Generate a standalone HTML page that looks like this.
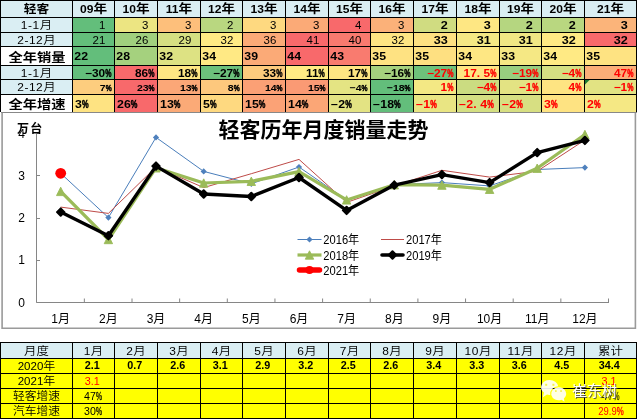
<!DOCTYPE html>
<html lang="zh"><head><meta charset="utf-8"><title>轻客历年月度销量走势</title>
<style>html,body{margin:0;padding:0;background:#fff}svg text{white-space:pre}</style></head>
<body>
<svg width="638" height="420" viewBox="0 0 638 420" style="display:block">
<rect width="638" height="420" fill="#fff"/>
<g id="chart">
<path d="M2.1 112V328.2H635.4V112" fill="none" stroke="#9a9a9a" stroke-width="1.6"/>
<path d="M36.5 134V302.5H609M36.5 302.5h3.5M36.5 260.5h3.5M36.5 218.5h3.5M36.5 175.5h3.5M36.5 133.5h3.5M84.35 302.5v-4M132.00 302.5v-4M179.65 302.5v-4M227.30 302.5v-4M274.95 302.5v-4M322.60 302.5v-4M370.25 302.5v-4M417.90 302.5v-4M465.55 302.5v-4M513.20 302.5v-4M560.85 302.5v-4M608.50 302.5v-4" fill="none" stroke="#868686" stroke-width="1"/>
<polyline points="60.7,173.3 108.4,217.6 156.0,137.4 203.7,171.4 251.3,183.8 299.0,167.0 346.6,199.9 394.3,184.7 441.9,182.6 489.6,185.9 537.2,169.5 584.9,167.6" fill="none" stroke="#4A7EBB" stroke-width="1"/>
<path d="M57.6 173.3L60.7 170.2L63.8 173.3L60.7 176.4ZM105.3 217.6L108.4 214.5L111.5 217.6L108.4 220.7ZM152.9 137.4L156.0 134.3L159.1 137.4L156.0 140.5ZM200.6 171.4L203.7 168.3L206.8 171.4L203.7 174.5ZM248.2 183.8L251.3 180.7L254.4 183.8L251.3 186.9ZM295.9 167.0L299.0 163.9L302.1 167.0L299.0 170.1ZM343.5 199.9L346.6 196.8L349.7 199.9L346.6 203.0ZM391.2 184.7L394.3 181.6L397.4 184.7L394.3 187.8ZM438.8 182.6L441.9 179.5L445.0 182.6L441.9 185.7ZM486.5 185.9L489.6 182.8L492.7 185.9L489.6 189.0ZM534.1 169.5L537.2 166.4L540.3 169.5L537.2 172.6ZM581.8 167.6L584.9 164.5L588.0 167.6L584.9 170.7Z" fill="#4F81BD"/>
<polyline points="60.7,207.1 108.4,213.4 156.0,167.0 203.7,187.6 251.3,173.7 299.0,159.4 346.6,202.4 394.3,185.9 441.9,170.3 489.6,177.1 537.2,171.2 584.9,140.0" fill="none" stroke="#BE4B48" stroke-width="1"/>
<polyline points="60.7,191.4 108.4,239.5 156.0,167.8 203.7,183.0 251.3,181.3 299.0,171.6 346.6,199.9 394.3,184.7 441.9,185.1 489.6,189.3 537.2,168.2 584.9,134.5" fill="none" stroke="#9BBB59" stroke-width="3.2" stroke-linejoin="round"/>
<path d="M56.5 195.6L60.7 187.2L64.9 195.6ZM104.2 243.7L108.4 235.3L112.6 243.7ZM151.8 172.0L156.0 163.6L160.2 172.0ZM199.5 187.2L203.7 178.8L207.9 187.2ZM247.1 185.5L251.3 177.1L255.5 185.5ZM294.8 175.8L299.0 167.4L303.2 175.8ZM342.4 204.1L346.6 195.7L350.8 204.1ZM390.1 188.9L394.3 180.5L398.5 188.9ZM437.7 189.3L441.9 180.9L446.1 189.3ZM485.4 193.5L489.6 185.1L493.8 193.5ZM533.0 172.4L537.2 164.0L541.4 172.4ZM580.7 138.7L584.9 130.3L589.1 138.7Z" fill="#9BBB59" stroke="#9BBB59" stroke-width="0.9" stroke-linejoin="round"/>
<polyline points="60.7,212.1 108.4,235.7 156.0,166.1 203.7,194.0 251.3,196.5 299.0,177.5 346.6,210.4 394.3,185.1 441.9,174.6 489.6,182.6 537.2,152.6 584.9,140.4" fill="none" stroke="#000" stroke-width="3.4" stroke-linejoin="round" stroke-linecap="round"/>
<path d="M57.0 212.1L60.7 208.4L64.4 212.1L60.7 215.8ZM104.7 235.7L108.4 232.0L112.1 235.7L108.4 239.4ZM152.3 166.1L156.0 162.4L159.7 166.1L156.0 169.8ZM200.0 194.0L203.7 190.3L207.4 194.0L203.7 197.7ZM247.6 196.5L251.3 192.8L255.0 196.5L251.3 200.2ZM295.3 177.5L299.0 173.8L302.7 177.5L299.0 181.2ZM342.9 210.4L346.6 206.7L350.3 210.4L346.6 214.1ZM390.6 185.1L394.3 181.4L398.0 185.1L394.3 188.8ZM438.2 174.6L441.9 170.9L445.6 174.6L441.9 178.3ZM485.9 182.6L489.6 178.9L493.3 182.6L489.6 186.3ZM533.5 152.6L537.2 148.9L540.9 152.6L537.2 156.3ZM581.2 140.4L584.9 136.7L588.6 140.4L584.9 144.1Z" fill="#000" stroke="#000" stroke-width="2" stroke-linejoin="round"/>
<circle cx="60.7" cy="173.3" r="5.4" fill="#FF0000"/>
<g style="font-family:'Liberation Sans','Noto Sans CJK SC',sans-serif;font-size:12px" fill="#000">
<text x="21.5" y="306.5" text-anchor="middle">0</text>
<text x="21.5" y="264.3" text-anchor="middle">1</text>
<text x="21.5" y="222.1" text-anchor="middle">2</text>
<text x="21.5" y="179.9" text-anchor="middle">3</text>
<text x="21.5" y="137.7" text-anchor="middle">4</text>
<text x="60.7" y="322.5" text-anchor="middle">1月</text>
<text x="108.4" y="322.5" text-anchor="middle">2月</text>
<text x="156.0" y="322.5" text-anchor="middle">3月</text>
<text x="203.7" y="322.5" text-anchor="middle">4月</text>
<text x="251.3" y="322.5" text-anchor="middle">5月</text>
<text x="299.0" y="322.5" text-anchor="middle">6月</text>
<text x="346.6" y="322.5" text-anchor="middle">7月</text>
<text x="394.3" y="322.5" text-anchor="middle">8月</text>
<text x="441.9" y="322.5" text-anchor="middle">9月</text>
<text x="489.6" y="322.5" text-anchor="middle">10月</text>
<text x="537.2" y="322.5" text-anchor="middle">11月</text>
<text x="584.9" y="322.5" text-anchor="middle">12月</text>
</g>
<text x="17" y="133.2" style="font-family:'Liberation Sans','Noto Sans CJK SC',sans-serif;font-size:12px;font-weight:bold;letter-spacing:1.2px">万台</text>
<text x="323.5" y="137.3" text-anchor="middle" style="font-family:'Liberation Sans','Noto Sans CJK SC',sans-serif;font-size:21px;font-weight:700">轻客历年月度销量走势</text>
<g style="font-family:'Liberation Sans','Noto Sans CJK SC',sans-serif;font-size:12px">
<path d="M297.5 239.5H321.5" stroke="#4A7EBB" stroke-width="1"/><path d="M306.4 239.5L309.5 236.4L312.6 239.5L309.5 242.6Z" fill="#4F81BD"/>
<text transform="translate(323.3 244) scale(0.93 1)">2016年</text>
<path d="M381 239.5H404" stroke="#BE4B48" stroke-width="1"/>
<text transform="translate(406 244) scale(0.93 1)">2017年</text>
<path d="M297.5 255H321.5" stroke="#9BBB59" stroke-width="3.2"/><path d="M305.3 259.2L309.5 250.8L313.7 259.2Z" fill="#9BBB59" stroke="#9BBB59" stroke-width="0.9" stroke-linejoin="round"/>
<text transform="translate(323.3 259.5) scale(0.93 1)">2018年</text>
<path d="M382 255H403" stroke="#000" stroke-width="3.6" stroke-linecap="round"/><path d="M388.8 255.0L392.5 251.3L396.2 255.0L392.5 258.7Z" fill="#000" stroke="#000" stroke-width="2" stroke-linejoin="round"/>
<text transform="translate(406 259.5) scale(0.93 1)">2019年</text>
<path d="M299.5 270H319.5" stroke="#FF0000" stroke-width="5.5" stroke-linecap="round"/><circle cx="309.5" cy="270" r="4" fill="#FF0000"/>
<text transform="translate(323.3 274.5) scale(0.93 1)">2021年</text>
</g>
</g>
<g id="toptable">
<rect x="0" y="0" width="72" height="17" fill="#DAEEF3"/>
<rect x="0" y="17" width="72" height="15" fill="#DAEEF3"/>
<rect x="0" y="32" width="72" height="14" fill="#DAEEF3"/>
<rect x="0" y="46" width="72" height="19" fill="#fff"/>
<rect x="0" y="65" width="72" height="14" fill="#DAEEF3"/>
<rect x="0" y="79" width="72" height="15" fill="#DAEEF3"/>
<rect x="0" y="94" width="72" height="18" fill="#fff"/>
<rect x="72" y="0" width="42" height="17" fill="#DAEEF3"/>
<rect x="72" y="17" width="42" height="15" fill="#63BE7B"/>
<rect x="72" y="32" width="42" height="14" fill="#63BE7B"/>
<rect x="72" y="46" width="42" height="19" fill="#63BE7B"/>
<rect x="72" y="65" width="42" height="14" fill="#63BE7B"/>
<rect x="72" y="79" width="42" height="15" fill="#FDCD7E"/>
<rect x="72" y="94" width="42" height="18" fill="#FEE382"/>
<rect x="114" y="0" width="43" height="17" fill="#DAEEF3"/>
<rect x="114" y="17" width="43" height="15" fill="#ECE582"/>
<rect x="114" y="32" width="43" height="14" fill="#A0D07E"/>
<rect x="114" y="46" width="43" height="19" fill="#A5D17E"/>
<rect x="114" y="65" width="43" height="14" fill="#F8696B"/>
<rect x="114" y="79" width="43" height="15" fill="#F8696B"/>
<rect x="114" y="94" width="43" height="18" fill="#F8696B"/>
<rect x="157" y="0" width="43" height="17" fill="#DAEEF3"/>
<rect x="157" y="17" width="43" height="15" fill="#FDBF7B"/>
<rect x="157" y="32" width="43" height="14" fill="#D5DF82"/>
<rect x="157" y="46" width="43" height="19" fill="#DDE283"/>
<rect x="157" y="65" width="43" height="14" fill="#FEE683"/>
<rect x="157" y="79" width="43" height="15" fill="#FBA777"/>
<rect x="157" y="94" width="43" height="18" fill="#FBAA77"/>
<rect x="200" y="0" width="42" height="17" fill="#DAEEF3"/>
<rect x="200" y="17" width="42" height="15" fill="#B9D780"/>
<rect x="200" y="32" width="42" height="14" fill="#FFEB84"/>
<rect x="200" y="46" width="42" height="19" fill="#FFE984"/>
<rect x="200" y="65" width="42" height="14" fill="#6CC07B"/>
<rect x="200" y="79" width="42" height="15" fill="#FDC87D"/>
<rect x="200" y="94" width="42" height="18" fill="#FED980"/>
<rect x="242" y="0" width="43" height="17" fill="#DAEEF3"/>
<rect x="242" y="17" width="43" height="15" fill="#FED980"/>
<rect x="242" y="32" width="43" height="14" fill="#FBAA77"/>
<rect x="242" y="46" width="43" height="19" fill="#FBAA77"/>
<rect x="242" y="65" width="43" height="14" fill="#FDCB7D"/>
<rect x="242" y="79" width="43" height="15" fill="#FBA075"/>
<rect x="242" y="94" width="43" height="18" fill="#FBA276"/>
<rect x="285" y="0" width="43" height="17" fill="#DAEEF3"/>
<rect x="285" y="17" width="43" height="15" fill="#FBAA77"/>
<rect x="285" y="32" width="43" height="14" fill="#F8696B"/>
<rect x="285" y="46" width="43" height="19" fill="#F8696B"/>
<rect x="285" y="65" width="43" height="14" fill="#FFEB84"/>
<rect x="285" y="79" width="43" height="15" fill="#FA9A74"/>
<rect x="285" y="94" width="43" height="18" fill="#FBA676"/>
<rect x="328" y="0" width="42" height="17" fill="#DAEEF3"/>
<rect x="328" y="17" width="42" height="15" fill="#F8696B"/>
<rect x="328" y="32" width="42" height="14" fill="#F97A6F"/>
<rect x="328" y="46" width="42" height="19" fill="#F97B6F"/>
<rect x="328" y="65" width="42" height="14" fill="#FEE582"/>
<rect x="328" y="79" width="42" height="15" fill="#E4E483"/>
<rect x="328" y="94" width="42" height="18" fill="#E3E383"/>
<rect x="370" y="0" width="43" height="17" fill="#DAEEF3"/>
<rect x="370" y="17" width="43" height="15" fill="#FBB179"/>
<rect x="370" y="32" width="43" height="14" fill="#FEE583"/>
<rect x="370" y="46" width="43" height="19" fill="#FEE282"/>
<rect x="370" y="65" width="43" height="14" fill="#A5D17E"/>
<rect x="370" y="79" width="43" height="15" fill="#63BE7B"/>
<rect x="370" y="94" width="43" height="18" fill="#63BE7B"/>
<rect x="413" y="0" width="43" height="17" fill="#DAEEF3"/>
<rect x="413" y="17" width="43" height="15" fill="#D0DC81"/>
<rect x="413" y="32" width="43" height="14" fill="#FEE182"/>
<rect x="413" y="46" width="43" height="19" fill="#FEE081"/>
<rect x="413" y="65" width="43" height="14" fill="#6EC17B"/>
<rect x="413" y="79" width="43" height="15" fill="#F3E884"/>
<rect x="413" y="94" width="43" height="18" fill="#E9E583"/>
<rect x="456" y="0" width="43" height="17" fill="#DAEEF3"/>
<rect x="456" y="17" width="43" height="15" fill="#FEE783"/>
<rect x="456" y="32" width="43" height="14" fill="#F5E884"/>
<rect x="456" y="46" width="43" height="19" fill="#FEE783"/>
<rect x="456" y="65" width="43" height="14" fill="#FEE582"/>
<rect x="456" y="79" width="43" height="15" fill="#CBDC81"/>
<rect x="456" y="94" width="43" height="18" fill="#D4DF82"/>
<rect x="499" y="0" width="42" height="17" fill="#DAEEF3"/>
<rect x="499" y="17" width="42" height="15" fill="#B5D680"/>
<rect x="499" y="32" width="42" height="14" fill="#F0E784"/>
<rect x="499" y="46" width="42" height="19" fill="#F5E884"/>
<rect x="499" y="65" width="42" height="14" fill="#98CE7F"/>
<rect x="499" y="79" width="42" height="15" fill="#E3E383"/>
<rect x="499" y="94" width="42" height="18" fill="#D7DF82"/>
<rect x="541" y="0" width="43" height="17" fill="#DAEEF3"/>
<rect x="541" y="17" width="43" height="15" fill="#B9D780"/>
<rect x="541" y="32" width="43" height="14" fill="#FFE984"/>
<rect x="541" y="46" width="43" height="19" fill="#FFEA84"/>
<rect x="541" y="65" width="43" height="14" fill="#D4DF82"/>
<rect x="541" y="79" width="43" height="15" fill="#FEE482"/>
<rect x="541" y="94" width="43" height="18" fill="#FEE382"/>
<rect x="584" y="0" width="52" height="17" fill="#DAEEF3"/>
<rect x="584" y="17" width="52" height="15" fill="#FBB47A"/>
<rect x="584" y="32" width="52" height="14" fill="#F8696B"/>
<rect x="584" y="46" width="52" height="19" fill="#FEE382"/>
<rect x="584" y="65" width="52" height="14" fill="#FBAE78"/>
<rect x="584" y="79" width="52" height="15" fill="#E2E383"/>
<rect x="584" y="94" width="52" height="18" fill="#F5E884"/>
<path d="M0 0.5H637M0 17.5H637M0 32.5H637M0 46.5H637M0 65.5H637M0 79.5H637M0 94.5H637M0.5 0V112M72.5 0V112M114.5 0V112M157.5 0V112M200.5 0V112M242.5 0V112M285.5 0V112M328.5 0V112M370.5 0V112M413.5 0V112M456.5 0V112M499.5 0V112M541.5 0V112M584.5 0V112M636.5 0V112" stroke="#000" stroke-width="1" fill="none"/>
<path d="M1 112.5H637" stroke="#888" stroke-width="1" fill="none"/>
<text transform="translate(36.5 13.4) scale(0.98 0.9)" text-anchor="middle" fill="#000" style="font-family:'Liberation Sans','Noto Sans CJK SC',sans-serif;font-size:13px;font-weight:700"><tspan style="font-size:13px">轻客</tspan></text>
<text transform="translate(93.5 13.3) scale(1.05 0.92)" text-anchor="middle" fill="#000" style="font-family:'Liberation Sans','Noto Sans CJK SC',sans-serif;font-size:13px;font-weight:700"><tspan dy="-0.4" style="font-family:'Liberation Sans',sans-serif;font-size:11.5px">09</tspan><tspan dy="0.4" style="font-size:13px">年</tspan></text>
<text transform="translate(136.0 13.3) scale(1.05 0.92)" text-anchor="middle" fill="#000" style="font-family:'Liberation Sans','Noto Sans CJK SC',sans-serif;font-size:13px;font-weight:700"><tspan dy="-0.4" style="font-family:'Liberation Sans',sans-serif;font-size:11.5px">10</tspan><tspan dy="0.4" style="font-size:13px">年</tspan></text>
<text transform="translate(179.0 13.3) scale(1.05 0.92)" text-anchor="middle" fill="#000" style="font-family:'Liberation Sans','Noto Sans CJK SC',sans-serif;font-size:13px;font-weight:700"><tspan dy="-0.4" style="font-family:'Liberation Sans',sans-serif;font-size:11.5px">11</tspan><tspan dy="0.4" style="font-size:13px">年</tspan></text>
<text transform="translate(221.5 13.3) scale(1.05 0.92)" text-anchor="middle" fill="#000" style="font-family:'Liberation Sans','Noto Sans CJK SC',sans-serif;font-size:13px;font-weight:700"><tspan dy="-0.4" style="font-family:'Liberation Sans',sans-serif;font-size:11.5px">12</tspan><tspan dy="0.4" style="font-size:13px">年</tspan></text>
<text transform="translate(264.0 13.3) scale(1.05 0.92)" text-anchor="middle" fill="#000" style="font-family:'Liberation Sans','Noto Sans CJK SC',sans-serif;font-size:13px;font-weight:700"><tspan dy="-0.4" style="font-family:'Liberation Sans',sans-serif;font-size:11.5px">13</tspan><tspan dy="0.4" style="font-size:13px">年</tspan></text>
<text transform="translate(307.0 13.3) scale(1.05 0.92)" text-anchor="middle" fill="#000" style="font-family:'Liberation Sans','Noto Sans CJK SC',sans-serif;font-size:13px;font-weight:700"><tspan dy="-0.4" style="font-family:'Liberation Sans',sans-serif;font-size:11.5px">14</tspan><tspan dy="0.4" style="font-size:13px">年</tspan></text>
<text transform="translate(349.5 13.3) scale(1.05 0.92)" text-anchor="middle" fill="#000" style="font-family:'Liberation Sans','Noto Sans CJK SC',sans-serif;font-size:13px;font-weight:700"><tspan dy="-0.4" style="font-family:'Liberation Sans',sans-serif;font-size:11.5px">15</tspan><tspan dy="0.4" style="font-size:13px">年</tspan></text>
<text transform="translate(392.0 13.3) scale(1.05 0.92)" text-anchor="middle" fill="#000" style="font-family:'Liberation Sans','Noto Sans CJK SC',sans-serif;font-size:13px;font-weight:700"><tspan dy="-0.4" style="font-family:'Liberation Sans',sans-serif;font-size:11.5px">16</tspan><tspan dy="0.4" style="font-size:13px">年</tspan></text>
<text transform="translate(435.0 13.3) scale(1.05 0.92)" text-anchor="middle" fill="#000" style="font-family:'Liberation Sans','Noto Sans CJK SC',sans-serif;font-size:13px;font-weight:700"><tspan dy="-0.4" style="font-family:'Liberation Sans',sans-serif;font-size:11.5px">17</tspan><tspan dy="0.4" style="font-size:13px">年</tspan></text>
<text transform="translate(478.0 13.3) scale(1.05 0.92)" text-anchor="middle" fill="#000" style="font-family:'Liberation Sans','Noto Sans CJK SC',sans-serif;font-size:13px;font-weight:700"><tspan dy="-0.4" style="font-family:'Liberation Sans',sans-serif;font-size:11.5px">18</tspan><tspan dy="0.4" style="font-size:13px">年</tspan></text>
<text transform="translate(520.5 13.3) scale(1.05 0.92)" text-anchor="middle" fill="#000" style="font-family:'Liberation Sans','Noto Sans CJK SC',sans-serif;font-size:13px;font-weight:700"><tspan dy="-0.4" style="font-family:'Liberation Sans',sans-serif;font-size:11.5px">19</tspan><tspan dy="0.4" style="font-size:13px">年</tspan></text>
<text transform="translate(563.0 13.3) scale(1.05 0.92)" text-anchor="middle" fill="#000" style="font-family:'Liberation Sans','Noto Sans CJK SC',sans-serif;font-size:13px;font-weight:700"><tspan dy="-0.4" style="font-family:'Liberation Sans',sans-serif;font-size:11.5px">20</tspan><tspan dy="0.4" style="font-size:13px">年</tspan></text>
<text transform="translate(610.5 13.3) scale(1.05 0.92)" text-anchor="middle" fill="#000" style="font-family:'Liberation Sans','Noto Sans CJK SC',sans-serif;font-size:13px;font-weight:700"><tspan dy="-0.4" style="font-family:'Liberation Sans',sans-serif;font-size:11.5px">21</tspan><tspan dy="0.4" style="font-size:13px">年</tspan></text>
<text transform="translate(36.5 28.7) scale(1.04 0.93)" text-anchor="middle" fill="#000" style="font-family:'Liberation Sans','Noto Sans CJK SC',sans-serif;font-size:12px;font-weight:350"><tspan style="font-family:'Liberation Sans',sans-serif;font-size:11.5px;letter-spacing:0.5px">1-1</tspan><tspan style="font-size:12px">月</tspan></text>
<text transform="translate(36.5 43.9) scale(1.04 0.93)" text-anchor="middle" fill="#000" style="font-family:'Liberation Sans','Noto Sans CJK SC',sans-serif;font-size:12px;font-weight:350"><tspan style="font-family:'Liberation Sans',sans-serif;font-size:11.5px;letter-spacing:0.5px">2-12</tspan><tspan style="font-size:12px">月</tspan></text>
<text transform="translate(37.1 62) scale(1.02 0.88)" text-anchor="middle" fill="#000" style="font-family:'Liberation Sans','Noto Sans CJK SC',sans-serif;font-size:14px;font-weight:700"><tspan style="font-size:14px">全年销量</tspan></text>
<text transform="translate(36.5 76.5) scale(1.04 0.93)" text-anchor="middle" fill="#000" style="font-family:'Liberation Sans','Noto Sans CJK SC',sans-serif;font-size:12px;font-weight:350"><tspan style="font-family:'Liberation Sans',sans-serif;font-size:11.5px;letter-spacing:0.5px">1-1</tspan><tspan style="font-size:12px">月</tspan></text>
<text transform="translate(36.5 90.7) scale(1.04 0.93)" text-anchor="middle" fill="#000" style="font-family:'Liberation Sans','Noto Sans CJK SC',sans-serif;font-size:12px;font-weight:350"><tspan style="font-family:'Liberation Sans',sans-serif;font-size:11.5px;letter-spacing:0.5px">2-12</tspan><tspan style="font-size:12px">月</tspan></text>
<text transform="translate(37.1 108.9) scale(1.02 0.88)" text-anchor="middle" fill="#000" style="font-family:'Liberation Sans','Noto Sans CJK SC',sans-serif;font-size:14px;font-weight:700"><tspan style="font-size:14px">全年增速</tspan></text>
<text transform="translate(105.3 29) scale(1.04 1)" text-anchor="end" fill="#000" style="font-family:'Liberation Sans','Noto Sans CJK SC',sans-serif;font-size:11px">1</text>
<text transform="translate(105.3 43.7) scale(1.04 1)" text-anchor="end" fill="#000" style="font-family:'Liberation Sans','Noto Sans CJK SC',sans-serif;font-size:11px">21</text>
<text transform="translate(74.3 59.8) scale(1.12 1)" text-anchor="start" fill="#000" style="font-family:'Liberation Sans','Noto Sans CJK SC',sans-serif;font-size:11px;font-weight:bold">22</text>
<text transform="translate(85.1 76.6) scale(1.13 1)" fill="#000" style="font-family:'Liberation Sans','Noto Sans CJK SC',sans-serif;font-size:10.5px;font-weight:bold">−30<tspan textLength="5.49" lengthAdjust="spacingAndGlyphs" style="stroke:#000;stroke-width:0.5px">%</tspan></text>
<text transform="translate(99.8 90.8) scale(1.13 1)" fill="#000" style="font-family:'Liberation Sans','Noto Sans CJK SC',sans-serif;font-size:9.3px;font-weight:bold">7<tspan textLength="5.31" lengthAdjust="spacingAndGlyphs" style="stroke:#000;stroke-width:0.5px">%</tspan></text>
<text transform="translate(75.1 107.8) scale(1.2 1)" fill="#000" style="font-family:'Liberation Sans','Noto Sans CJK SC',sans-serif;font-size:10.3px;font-weight:bold">3<tspan textLength="5.50" lengthAdjust="spacingAndGlyphs" style="stroke:#000;stroke-width:0.5px">%</tspan></text>
<text transform="translate(148.3 29) scale(1.04 1)" text-anchor="end" fill="#000" style="font-family:'Liberation Sans','Noto Sans CJK SC',sans-serif;font-size:11px">3</text>
<text transform="translate(148.3 43.7) scale(1.04 1)" text-anchor="end" fill="#000" style="font-family:'Liberation Sans','Noto Sans CJK SC',sans-serif;font-size:11px">26</text>
<text transform="translate(116.3 59.8) scale(1.12 1)" text-anchor="start" fill="#000" style="font-family:'Liberation Sans','Noto Sans CJK SC',sans-serif;font-size:11px;font-weight:bold">28</text>
<text transform="translate(135.0 76.6) scale(1.13 1)" fill="#000" style="font-family:'Liberation Sans','Noto Sans CJK SC',sans-serif;font-size:10.5px;font-weight:bold">86<tspan textLength="5.49" lengthAdjust="spacingAndGlyphs" style="stroke:#000;stroke-width:0.5px">%</tspan></text>
<text transform="translate(136.9 90.8) scale(1.13 1)" fill="#000" style="font-family:'Liberation Sans','Noto Sans CJK SC',sans-serif;font-size:9.3px;font-weight:bold">23<tspan textLength="5.31" lengthAdjust="spacingAndGlyphs" style="stroke:#000;stroke-width:0.5px">%</tspan></text>
<text transform="translate(117.1 107.8) scale(1.2 1)" fill="#000" style="font-family:'Liberation Sans','Noto Sans CJK SC',sans-serif;font-size:10.3px;font-weight:bold">26<tspan textLength="5.50" lengthAdjust="spacingAndGlyphs" style="stroke:#000;stroke-width:0.5px">%</tspan></text>
<text transform="translate(191.3 29) scale(1.04 1)" text-anchor="end" fill="#000" style="font-family:'Liberation Sans','Noto Sans CJK SC',sans-serif;font-size:11px">3</text>
<text transform="translate(191.3 43.7) scale(1.04 1)" text-anchor="end" fill="#000" style="font-family:'Liberation Sans','Noto Sans CJK SC',sans-serif;font-size:11px">29</text>
<text transform="translate(159.3 59.8) scale(1.12 1)" text-anchor="start" fill="#000" style="font-family:'Liberation Sans','Noto Sans CJK SC',sans-serif;font-size:11px;font-weight:bold">32</text>
<text transform="translate(178.0 76.6) scale(1.13 1)" fill="#000" style="font-family:'Liberation Sans','Noto Sans CJK SC',sans-serif;font-size:10.5px;font-weight:bold">18<tspan textLength="5.49" lengthAdjust="spacingAndGlyphs" style="stroke:#000;stroke-width:0.5px">%</tspan></text>
<text transform="translate(179.9 90.8) scale(1.13 1)" fill="#000" style="font-family:'Liberation Sans','Noto Sans CJK SC',sans-serif;font-size:9.3px;font-weight:bold">13<tspan textLength="5.31" lengthAdjust="spacingAndGlyphs" style="stroke:#000;stroke-width:0.5px">%</tspan></text>
<text transform="translate(160.1 107.8) scale(1.2 1)" fill="#000" style="font-family:'Liberation Sans','Noto Sans CJK SC',sans-serif;font-size:10.3px;font-weight:bold">13<tspan textLength="5.50" lengthAdjust="spacingAndGlyphs" style="stroke:#000;stroke-width:0.5px">%</tspan></text>
<text transform="translate(233.3 29) scale(1.04 1)" text-anchor="end" fill="#000" style="font-family:'Liberation Sans','Noto Sans CJK SC',sans-serif;font-size:11px">2</text>
<text transform="translate(233.3 43.7) scale(1.04 1)" text-anchor="end" fill="#000" style="font-family:'Liberation Sans','Noto Sans CJK SC',sans-serif;font-size:11px">32</text>
<text transform="translate(202.3 59.8) scale(1.12 1)" text-anchor="start" fill="#000" style="font-family:'Liberation Sans','Noto Sans CJK SC',sans-serif;font-size:11px;font-weight:bold">34</text>
<text transform="translate(213.1 76.6) scale(1.13 1)" fill="#000" style="font-family:'Liberation Sans','Noto Sans CJK SC',sans-serif;font-size:10.5px;font-weight:bold">−27<tspan textLength="5.49" lengthAdjust="spacingAndGlyphs" style="stroke:#000;stroke-width:0.5px">%</tspan></text>
<text transform="translate(227.8 90.8) scale(1.13 1)" fill="#000" style="font-family:'Liberation Sans','Noto Sans CJK SC',sans-serif;font-size:9.3px;font-weight:bold">8<tspan textLength="5.31" lengthAdjust="spacingAndGlyphs" style="stroke:#000;stroke-width:0.5px">%</tspan></text>
<text transform="translate(203.1 107.8) scale(1.2 1)" fill="#000" style="font-family:'Liberation Sans','Noto Sans CJK SC',sans-serif;font-size:10.3px;font-weight:bold">5<tspan textLength="5.50" lengthAdjust="spacingAndGlyphs" style="stroke:#000;stroke-width:0.5px">%</tspan></text>
<text transform="translate(276.3 29) scale(1.04 1)" text-anchor="end" fill="#000" style="font-family:'Liberation Sans','Noto Sans CJK SC',sans-serif;font-size:11px">3</text>
<text transform="translate(276.3 43.7) scale(1.04 1)" text-anchor="end" fill="#000" style="font-family:'Liberation Sans','Noto Sans CJK SC',sans-serif;font-size:11px">36</text>
<text transform="translate(244.3 59.8) scale(1.12 1)" text-anchor="start" fill="#000" style="font-family:'Liberation Sans','Noto Sans CJK SC',sans-serif;font-size:11px;font-weight:bold">39</text>
<text transform="translate(263.0 76.6) scale(1.13 1)" fill="#000" style="font-family:'Liberation Sans','Noto Sans CJK SC',sans-serif;font-size:10.5px;font-weight:bold">33<tspan textLength="5.49" lengthAdjust="spacingAndGlyphs" style="stroke:#000;stroke-width:0.5px">%</tspan></text>
<text transform="translate(264.9 90.8) scale(1.13 1)" fill="#000" style="font-family:'Liberation Sans','Noto Sans CJK SC',sans-serif;font-size:9.3px;font-weight:bold">14<tspan textLength="5.31" lengthAdjust="spacingAndGlyphs" style="stroke:#000;stroke-width:0.5px">%</tspan></text>
<text transform="translate(245.1 107.8) scale(1.2 1)" fill="#000" style="font-family:'Liberation Sans','Noto Sans CJK SC',sans-serif;font-size:10.3px;font-weight:bold">15<tspan textLength="5.50" lengthAdjust="spacingAndGlyphs" style="stroke:#000;stroke-width:0.5px">%</tspan></text>
<text transform="translate(319.3 29) scale(1.04 1)" text-anchor="end" fill="#000" style="font-family:'Liberation Sans','Noto Sans CJK SC',sans-serif;font-size:11px">3</text>
<text transform="translate(319.3 43.7) scale(1.04 1)" text-anchor="end" fill="#000" style="font-family:'Liberation Sans','Noto Sans CJK SC',sans-serif;font-size:11px">41</text>
<text transform="translate(287.3 59.8) scale(1.12 1)" text-anchor="start" fill="#000" style="font-family:'Liberation Sans','Noto Sans CJK SC',sans-serif;font-size:11px;font-weight:bold">44</text>
<text transform="translate(306.0 76.6) scale(1.13 1)" fill="#000" style="font-family:'Liberation Sans','Noto Sans CJK SC',sans-serif;font-size:10.5px;font-weight:bold">11<tspan textLength="5.49" lengthAdjust="spacingAndGlyphs" style="stroke:#000;stroke-width:0.5px">%</tspan></text>
<text transform="translate(307.9 90.8) scale(1.13 1)" fill="#000" style="font-family:'Liberation Sans','Noto Sans CJK SC',sans-serif;font-size:9.3px;font-weight:bold">15<tspan textLength="5.31" lengthAdjust="spacingAndGlyphs" style="stroke:#000;stroke-width:0.5px">%</tspan></text>
<text transform="translate(288.1 107.8) scale(1.2 1)" fill="#000" style="font-family:'Liberation Sans','Noto Sans CJK SC',sans-serif;font-size:10.3px;font-weight:bold">14<tspan textLength="5.50" lengthAdjust="spacingAndGlyphs" style="stroke:#000;stroke-width:0.5px">%</tspan></text>
<text transform="translate(361.3 29) scale(1.04 1)" text-anchor="end" fill="#000" style="font-family:'Liberation Sans','Noto Sans CJK SC',sans-serif;font-size:11px">4</text>
<text transform="translate(361.3 43.7) scale(1.04 1)" text-anchor="end" fill="#000" style="font-family:'Liberation Sans','Noto Sans CJK SC',sans-serif;font-size:11px">40</text>
<text transform="translate(330.3 59.8) scale(1.12 1)" text-anchor="start" fill="#000" style="font-family:'Liberation Sans','Noto Sans CJK SC',sans-serif;font-size:11px;font-weight:bold">43</text>
<text transform="translate(348.0 76.6) scale(1.13 1)" fill="#000" style="font-family:'Liberation Sans','Noto Sans CJK SC',sans-serif;font-size:10.5px;font-weight:bold">17<tspan textLength="5.49" lengthAdjust="spacingAndGlyphs" style="stroke:#000;stroke-width:0.5px">%</tspan></text>
<text transform="translate(349.6 90.8) scale(1.13 1)" fill="#000" style="font-family:'Liberation Sans','Noto Sans CJK SC',sans-serif;font-size:9.3px;font-weight:bold">−4<tspan textLength="5.31" lengthAdjust="spacingAndGlyphs" style="stroke:#000;stroke-width:0.5px">%</tspan></text>
<text transform="translate(331.1 107.8) scale(1.2 1)" fill="#000" style="font-family:'Liberation Sans','Noto Sans CJK SC',sans-serif;font-size:10.3px;font-weight:bold">−2<tspan textLength="5.50" lengthAdjust="spacingAndGlyphs" style="stroke:#000;stroke-width:0.5px">%</tspan></text>
<text transform="translate(404.3 29) scale(1.04 1)" text-anchor="end" fill="#000" style="font-family:'Liberation Sans','Noto Sans CJK SC',sans-serif;font-size:11px">3</text>
<text transform="translate(404.3 43.7) scale(1.04 1)" text-anchor="end" fill="#000" style="font-family:'Liberation Sans','Noto Sans CJK SC',sans-serif;font-size:11px">32</text>
<text transform="translate(372.3 59.8) scale(1.12 1)" text-anchor="start" fill="#000" style="font-family:'Liberation Sans','Noto Sans CJK SC',sans-serif;font-size:11px;font-weight:bold">35</text>
<text transform="translate(384.1 76.6) scale(1.13 1)" fill="#000" style="font-family:'Liberation Sans','Noto Sans CJK SC',sans-serif;font-size:10.5px;font-weight:bold">−16<tspan textLength="5.49" lengthAdjust="spacingAndGlyphs" style="stroke:#000;stroke-width:0.5px">%</tspan></text>
<text transform="translate(386.8 90.8) scale(1.13 1)" fill="#000" style="font-family:'Liberation Sans','Noto Sans CJK SC',sans-serif;font-size:9.3px;font-weight:bold">−18<tspan textLength="5.31" lengthAdjust="spacingAndGlyphs" style="stroke:#000;stroke-width:0.5px">%</tspan></text>
<text transform="translate(373.1 107.8) scale(1.2 1)" fill="#000" style="font-family:'Liberation Sans','Noto Sans CJK SC',sans-serif;font-size:10.3px;font-weight:bold">−18<tspan textLength="5.50" lengthAdjust="spacingAndGlyphs" style="stroke:#000;stroke-width:0.5px">%</tspan></text>
<text transform="translate(447.8 29) scale(1.15 1)" text-anchor="end" fill="#000" style="font-family:'Liberation Sans','Noto Sans CJK SC',sans-serif;font-size:11px;font-weight:bold">2</text>
<text transform="translate(447.8 43.7) scale(1.15 1)" text-anchor="end" fill="#000" style="font-family:'Liberation Sans','Noto Sans CJK SC',sans-serif;font-size:11px;font-weight:bold">33</text>
<text transform="translate(415.3 59.8) scale(1.12 1)" text-anchor="start" fill="#000" style="font-family:'Liberation Sans','Noto Sans CJK SC',sans-serif;font-size:11px;font-weight:bold">35</text>
<text transform="translate(427.1 76.6) scale(1.13 1)" fill="#FF0000" style="font-family:'Liberation Sans','Noto Sans CJK SC',sans-serif;font-size:10.5px;font-weight:bold">−27<tspan textLength="5.49" lengthAdjust="spacingAndGlyphs" style="stroke:#FF0000;stroke-width:0.5px">%</tspan></text>
<text transform="translate(440.6 91.4) scale(1.13 1)" fill="#FF0000" style="font-family:'Liberation Sans','Noto Sans CJK SC',sans-serif;font-size:10.5px;font-weight:bold">1<tspan textLength="5.49" lengthAdjust="spacingAndGlyphs" style="stroke:#FF0000;stroke-width:0.5px">%</tspan></text>
<text transform="translate(416.1 107.8) scale(1.2 1)" fill="#FF0000" style="font-family:'Liberation Sans','Noto Sans CJK SC',sans-serif;font-size:10.3px;font-weight:bold">−1<tspan textLength="5.50" lengthAdjust="spacingAndGlyphs" style="stroke:#FF0000;stroke-width:0.5px">%</tspan></text>
<text transform="translate(490.8 29) scale(1.15 1)" text-anchor="end" fill="#000" style="font-family:'Liberation Sans','Noto Sans CJK SC',sans-serif;font-size:11px;font-weight:bold">3</text>
<text transform="translate(490.8 43.7) scale(1.15 1)" text-anchor="end" fill="#000" style="font-family:'Liberation Sans','Noto Sans CJK SC',sans-serif;font-size:11px;font-weight:bold">31</text>
<text transform="translate(458.3 59.8) scale(1.12 1)" text-anchor="start" fill="#000" style="font-family:'Liberation Sans','Noto Sans CJK SC',sans-serif;font-size:11px;font-weight:bold">34</text>
<text transform="translate(463.6 76.6) scale(1.13 1)" fill="#FF0000" style="font-family:'Liberation Sans','Noto Sans CJK SC',sans-serif;font-size:10.5px;font-weight:bold">17.<tspan dx="3.1">5</tspan><tspan textLength="5.49" lengthAdjust="spacingAndGlyphs" style="stroke:#FF0000;stroke-width:0.5px">%</tspan></text>
<text transform="translate(476.7 91.4) scale(1.13 1)" fill="#FF0000" style="font-family:'Liberation Sans','Noto Sans CJK SC',sans-serif;font-size:10.5px;font-weight:bold">−4<tspan textLength="5.49" lengthAdjust="spacingAndGlyphs" style="stroke:#FF0000;stroke-width:0.5px">%</tspan></text>
<text transform="translate(459.1 107.8) scale(1.2 1)" fill="#FF0000" style="font-family:'Liberation Sans','Noto Sans CJK SC',sans-serif;font-size:10.3px;font-weight:bold">−2.<tspan dx="3.1">4</tspan><tspan textLength="5.50" lengthAdjust="spacingAndGlyphs" style="stroke:#FF0000;stroke-width:0.5px">%</tspan></text>
<text transform="translate(532.8 29) scale(1.15 1)" text-anchor="end" fill="#000" style="font-family:'Liberation Sans','Noto Sans CJK SC',sans-serif;font-size:11px;font-weight:bold">2</text>
<text transform="translate(532.8 43.7) scale(1.15 1)" text-anchor="end" fill="#000" style="font-family:'Liberation Sans','Noto Sans CJK SC',sans-serif;font-size:11px;font-weight:bold">31</text>
<text transform="translate(501.3 59.8) scale(1.12 1)" text-anchor="start" fill="#000" style="font-family:'Liberation Sans','Noto Sans CJK SC',sans-serif;font-size:11px;font-weight:bold">33</text>
<text transform="translate(512.1 76.6) scale(1.13 1)" fill="#FF0000" style="font-family:'Liberation Sans','Noto Sans CJK SC',sans-serif;font-size:10.5px;font-weight:bold">−19<tspan textLength="5.49" lengthAdjust="spacingAndGlyphs" style="stroke:#FF0000;stroke-width:0.5px">%</tspan></text>
<text transform="translate(518.7 91.4) scale(1.13 1)" fill="#FF0000" style="font-family:'Liberation Sans','Noto Sans CJK SC',sans-serif;font-size:10.5px;font-weight:bold">−1<tspan textLength="5.49" lengthAdjust="spacingAndGlyphs" style="stroke:#FF0000;stroke-width:0.5px">%</tspan></text>
<text transform="translate(502.1 107.8) scale(1.2 1)" fill="#FF0000" style="font-family:'Liberation Sans','Noto Sans CJK SC',sans-serif;font-size:10.3px;font-weight:bold">−2<tspan textLength="5.50" lengthAdjust="spacingAndGlyphs" style="stroke:#FF0000;stroke-width:0.5px">%</tspan></text>
<text transform="translate(575.8 29) scale(1.15 1)" text-anchor="end" fill="#000" style="font-family:'Liberation Sans','Noto Sans CJK SC',sans-serif;font-size:11px;font-weight:bold">2</text>
<text transform="translate(575.8 43.7) scale(1.15 1)" text-anchor="end" fill="#000" style="font-family:'Liberation Sans','Noto Sans CJK SC',sans-serif;font-size:11px;font-weight:bold">32</text>
<text transform="translate(543.3 59.8) scale(1.12 1)" text-anchor="start" fill="#000" style="font-family:'Liberation Sans','Noto Sans CJK SC',sans-serif;font-size:11px;font-weight:bold">34</text>
<text transform="translate(561.7 76.6) scale(1.13 1)" fill="#FF0000" style="font-family:'Liberation Sans','Noto Sans CJK SC',sans-serif;font-size:10.5px;font-weight:bold">−4<tspan textLength="5.49" lengthAdjust="spacingAndGlyphs" style="stroke:#FF0000;stroke-width:0.5px">%</tspan></text>
<text transform="translate(568.6 91.4) scale(1.13 1)" fill="#FF0000" style="font-family:'Liberation Sans','Noto Sans CJK SC',sans-serif;font-size:10.5px;font-weight:bold">4<tspan textLength="5.49" lengthAdjust="spacingAndGlyphs" style="stroke:#FF0000;stroke-width:0.5px">%</tspan></text>
<text transform="translate(544.1 107.8) scale(1.2 1)" fill="#FF0000" style="font-family:'Liberation Sans','Noto Sans CJK SC',sans-serif;font-size:10.3px;font-weight:bold">3<tspan textLength="5.50" lengthAdjust="spacingAndGlyphs" style="stroke:#FF0000;stroke-width:0.5px">%</tspan></text>
<text transform="translate(627.8 29) scale(1.15 1)" text-anchor="end" fill="#000" style="font-family:'Liberation Sans','Noto Sans CJK SC',sans-serif;font-size:11px;font-weight:bold">3</text>
<text transform="translate(627.8 43.7) scale(1.15 1)" text-anchor="end" fill="#000" style="font-family:'Liberation Sans','Noto Sans CJK SC',sans-serif;font-size:11px;font-weight:bold">32</text>
<text transform="translate(586.3 59.8) scale(1.12 1)" text-anchor="start" fill="#000" style="font-family:'Liberation Sans','Noto Sans CJK SC',sans-serif;font-size:11px;font-weight:bold">35</text>
<text transform="translate(614.0 76.6) scale(1.13 1)" fill="#FF0000" style="font-family:'Liberation Sans','Noto Sans CJK SC',sans-serif;font-size:10.5px;font-weight:bold">47<tspan textLength="5.49" lengthAdjust="spacingAndGlyphs" style="stroke:#FF0000;stroke-width:0.5px">%</tspan></text>
<text transform="translate(613.7 91.4) scale(1.13 1)" fill="#FF0000" style="font-family:'Liberation Sans','Noto Sans CJK SC',sans-serif;font-size:10.5px;font-weight:bold">−1<tspan textLength="5.49" lengthAdjust="spacingAndGlyphs" style="stroke:#FF0000;stroke-width:0.5px">%</tspan></text>
<text transform="translate(587.1 107.8) scale(1.2 1)" fill="#FF0000" style="font-family:'Liberation Sans','Noto Sans CJK SC',sans-serif;font-size:10.3px;font-weight:bold">2<tspan textLength="5.50" lengthAdjust="spacingAndGlyphs" style="stroke:#FF0000;stroke-width:0.5px">%</tspan></text>
<path d="M585 80h4.5l-4.5 4.5z" fill="#1E7B34"/>
</g>
<g id="bottable">
<rect x="0" y="342" width="636" height="16" fill="#DAEEF3"/>
<rect x="0" y="358" width="636" height="15" fill="#FFFF00"/>
<rect x="0" y="373" width="636" height="15" fill="#FFFF00"/>
<rect x="0" y="388" width="636" height="15" fill="#FFFF00"/>
<rect x="0" y="403" width="636" height="15" fill="#FFFF00"/>
<path d="M0 342.5H637M0 358.5H637M0 373.5H637M0 388.5H637M0 403.5H637M0 418.5H637M0.5 342V419M72.5 342V419M114.5 342V419M157.5 342V419M200.5 342V419M242.5 342V419M285.5 342V419M328.5 342V419M370.5 342V419M413.5 342V419M456.5 342V419M499.5 342V419M541.5 342V419M584.5 342V419M636.5 342V419" stroke="#000" stroke-width="1" fill="none"/>
<text transform="translate(36.5 355) scale(1.04 0.93)" text-anchor="middle" fill="#000" style="font-family:'Liberation Sans','Noto Sans CJK SC',sans-serif;font-size:12px;font-weight:350"><tspan style="font-size:12px">月度</tspan></text>
<text transform="translate(93.5 355) scale(1.04 0.93)" text-anchor="middle" fill="#000" style="font-family:'Liberation Sans','Noto Sans CJK SC',sans-serif;font-size:12px;font-weight:350"><tspan style="font-family:'Liberation Sans',sans-serif;font-size:11.5px;letter-spacing:0.5px">1</tspan><tspan style="font-size:12px">月</tspan></text>
<text transform="translate(136.0 355) scale(1.04 0.93)" text-anchor="middle" fill="#000" style="font-family:'Liberation Sans','Noto Sans CJK SC',sans-serif;font-size:12px;font-weight:350"><tspan style="font-family:'Liberation Sans',sans-serif;font-size:11.5px;letter-spacing:0.5px">2</tspan><tspan style="font-size:12px">月</tspan></text>
<text transform="translate(179.0 355) scale(1.04 0.93)" text-anchor="middle" fill="#000" style="font-family:'Liberation Sans','Noto Sans CJK SC',sans-serif;font-size:12px;font-weight:350"><tspan style="font-family:'Liberation Sans',sans-serif;font-size:11.5px;letter-spacing:0.5px">3</tspan><tspan style="font-size:12px">月</tspan></text>
<text transform="translate(221.5 355) scale(1.04 0.93)" text-anchor="middle" fill="#000" style="font-family:'Liberation Sans','Noto Sans CJK SC',sans-serif;font-size:12px;font-weight:350"><tspan style="font-family:'Liberation Sans',sans-serif;font-size:11.5px;letter-spacing:0.5px">4</tspan><tspan style="font-size:12px">月</tspan></text>
<text transform="translate(264.0 355) scale(1.04 0.93)" text-anchor="middle" fill="#000" style="font-family:'Liberation Sans','Noto Sans CJK SC',sans-serif;font-size:12px;font-weight:350"><tspan style="font-family:'Liberation Sans',sans-serif;font-size:11.5px;letter-spacing:0.5px">5</tspan><tspan style="font-size:12px">月</tspan></text>
<text transform="translate(307.0 355) scale(1.04 0.93)" text-anchor="middle" fill="#000" style="font-family:'Liberation Sans','Noto Sans CJK SC',sans-serif;font-size:12px;font-weight:350"><tspan style="font-family:'Liberation Sans',sans-serif;font-size:11.5px;letter-spacing:0.5px">6</tspan><tspan style="font-size:12px">月</tspan></text>
<text transform="translate(349.5 355) scale(1.04 0.93)" text-anchor="middle" fill="#000" style="font-family:'Liberation Sans','Noto Sans CJK SC',sans-serif;font-size:12px;font-weight:350"><tspan style="font-family:'Liberation Sans',sans-serif;font-size:11.5px;letter-spacing:0.5px">7</tspan><tspan style="font-size:12px">月</tspan></text>
<text transform="translate(392.0 355) scale(1.04 0.93)" text-anchor="middle" fill="#000" style="font-family:'Liberation Sans','Noto Sans CJK SC',sans-serif;font-size:12px;font-weight:350"><tspan style="font-family:'Liberation Sans',sans-serif;font-size:11.5px;letter-spacing:0.5px">8</tspan><tspan style="font-size:12px">月</tspan></text>
<text transform="translate(435.0 355) scale(1.04 0.93)" text-anchor="middle" fill="#000" style="font-family:'Liberation Sans','Noto Sans CJK SC',sans-serif;font-size:12px;font-weight:350"><tspan style="font-family:'Liberation Sans',sans-serif;font-size:11.5px;letter-spacing:0.5px">9</tspan><tspan style="font-size:12px">月</tspan></text>
<text transform="translate(478.0 355) scale(1.04 0.93)" text-anchor="middle" fill="#000" style="font-family:'Liberation Sans','Noto Sans CJK SC',sans-serif;font-size:12px;font-weight:350"><tspan style="font-family:'Liberation Sans',sans-serif;font-size:11.5px;letter-spacing:0.5px">10</tspan><tspan style="font-size:12px">月</tspan></text>
<text transform="translate(520.5 355) scale(1.04 0.93)" text-anchor="middle" fill="#000" style="font-family:'Liberation Sans','Noto Sans CJK SC',sans-serif;font-size:12px;font-weight:350"><tspan style="font-family:'Liberation Sans',sans-serif;font-size:11.5px;letter-spacing:0.5px">11</tspan><tspan style="font-size:12px">月</tspan></text>
<text transform="translate(563.0 355) scale(1.04 0.93)" text-anchor="middle" fill="#000" style="font-family:'Liberation Sans','Noto Sans CJK SC',sans-serif;font-size:12px;font-weight:350"><tspan style="font-family:'Liberation Sans',sans-serif;font-size:11.5px;letter-spacing:0.5px">12</tspan><tspan style="font-size:12px">月</tspan></text>
<text transform="translate(610.5 355) scale(1.04 0.93)" text-anchor="middle" fill="#000" style="font-family:'Liberation Sans','Noto Sans CJK SC',sans-serif;font-size:12px;font-weight:350"><tspan style="font-size:12px">累计</tspan></text>
<text transform="translate(36.5 370) scale(1.0 0.93)" text-anchor="middle" fill="#000" style="font-family:'Liberation Sans','Noto Sans CJK SC',sans-serif;font-size:12px;font-weight:350"><tspan style="font-family:'Liberation Sans',sans-serif;font-size:11.5px">2020</tspan><tspan style="font-size:12px">年</tspan></text>
<text transform="translate(36.5 385) scale(1.0 0.93)" text-anchor="middle" fill="#000" style="font-family:'Liberation Sans','Noto Sans CJK SC',sans-serif;font-size:12px;font-weight:350"><tspan style="font-family:'Liberation Sans',sans-serif;font-size:11.5px">2021</tspan><tspan style="font-size:12px">年</tspan></text>
<text transform="translate(36.5 400) scale(0.98 0.93)" text-anchor="middle" fill="#000" style="font-family:'Liberation Sans','Noto Sans CJK SC',sans-serif;font-size:12px;font-weight:350"><tspan style="font-size:12px">轻客增速</tspan></text>
<text transform="translate(36.5 415) scale(0.98 0.93)" text-anchor="middle" fill="#000" style="font-family:'Liberation Sans','Noto Sans CJK SC',sans-serif;font-size:12px;font-weight:350"><tspan style="font-size:12px">汽车增速</tspan></text>
<text x="92.3" y="369.2" text-anchor="middle" fill="#000" style="font-family:'Liberation Sans','Noto Sans CJK SC',sans-serif;font-size:10.8px;font-weight:bold">2.1</text>
<text x="134.8" y="369.2" text-anchor="middle" fill="#000" style="font-family:'Liberation Sans','Noto Sans CJK SC',sans-serif;font-size:10.8px;font-weight:bold">0.7</text>
<text x="177.8" y="369.2" text-anchor="middle" fill="#000" style="font-family:'Liberation Sans','Noto Sans CJK SC',sans-serif;font-size:10.8px;font-weight:bold">2.6</text>
<text x="220.3" y="369.2" text-anchor="middle" fill="#000" style="font-family:'Liberation Sans','Noto Sans CJK SC',sans-serif;font-size:10.8px;font-weight:bold">3.1</text>
<text x="262.8" y="369.2" text-anchor="middle" fill="#000" style="font-family:'Liberation Sans','Noto Sans CJK SC',sans-serif;font-size:10.8px;font-weight:bold">2.9</text>
<text x="305.8" y="369.2" text-anchor="middle" fill="#000" style="font-family:'Liberation Sans','Noto Sans CJK SC',sans-serif;font-size:10.8px;font-weight:bold">3.2</text>
<text x="348.3" y="369.2" text-anchor="middle" fill="#000" style="font-family:'Liberation Sans','Noto Sans CJK SC',sans-serif;font-size:10.8px;font-weight:bold">2.5</text>
<text x="390.8" y="369.2" text-anchor="middle" fill="#000" style="font-family:'Liberation Sans','Noto Sans CJK SC',sans-serif;font-size:10.8px;font-weight:bold">2.6</text>
<text x="433.8" y="369.2" text-anchor="middle" fill="#000" style="font-family:'Liberation Sans','Noto Sans CJK SC',sans-serif;font-size:10.8px;font-weight:bold">3.4</text>
<text x="476.8" y="369.2" text-anchor="middle" fill="#000" style="font-family:'Liberation Sans','Noto Sans CJK SC',sans-serif;font-size:10.8px;font-weight:bold">3.3</text>
<text x="519.3" y="369.2" text-anchor="middle" fill="#000" style="font-family:'Liberation Sans','Noto Sans CJK SC',sans-serif;font-size:10.8px;font-weight:bold">3.6</text>
<text x="561.8" y="369.2" text-anchor="middle" fill="#000" style="font-family:'Liberation Sans','Noto Sans CJK SC',sans-serif;font-size:10.8px;font-weight:bold">4.5</text>
<text x="609.3" y="369.2" text-anchor="middle" fill="#000" style="font-family:'Liberation Sans','Noto Sans CJK SC',sans-serif;font-size:10.8px;font-weight:bold">34.4</text>
<text x="92.3" y="384.9" text-anchor="middle" fill="#FF0000" style="font-family:'Liberation Sans','Noto Sans CJK SC',sans-serif;font-size:10.8px">3.1</text>
<text transform="translate(84.1 400) scale(1.0 1)" fill="#000" style="font-family:'Liberation Sans','Noto Sans CJK SC',sans-serif;font-size:10.6px">47<tspan textLength="6.00" lengthAdjust="spacingAndGlyphs" style="stroke:#000;stroke-width:0.3px">%</tspan></text>
<text transform="translate(84.1 415.2) scale(1.0 1)" fill="#000" style="font-family:'Liberation Sans','Noto Sans CJK SC',sans-serif;font-size:10.6px">30<tspan textLength="6.00" lengthAdjust="spacingAndGlyphs" style="stroke:#000;stroke-width:0.3px">%</tspan></text>
<text x="608.9" y="384.9" text-anchor="middle" fill="#FF0000" style="font-family:'Liberation Sans','Noto Sans CJK SC',sans-serif;font-size:10.8px">3.1</text>
<text transform="translate(601.6 400) scale(1.0 1)" fill="#3a3a00" style="font-family:'Liberation Sans','Noto Sans CJK SC',sans-serif;font-size:10.6px">47<tspan textLength="6.00" lengthAdjust="spacingAndGlyphs" style="stroke:#3a3a00;stroke-width:0.3px">%</tspan></text>
<text transform="translate(598.3 414.8) scale(0.9 1)" fill="#FF0000" style="font-family:'Liberation Sans','Noto Sans CJK SC',sans-serif;font-size:10.5px">29.9<tspan textLength="7.78" lengthAdjust="spacingAndGlyphs" style="stroke:#FF0000;stroke-width:0.3px">%</tspan></text>
<g id="wm">
<g fill="#fff" fill-opacity="0.9">
<path d="M549.6 380a8.5 7.2 0 0 0 -5.6 12.6l-1.2 4.6 4.2-2.6a8.5 7.2 0 0 0 3.2 0.3a8.6 7.6 0 0 1 7.9-8.6a8.5 7.2 0 0 0 -8.5-6.3z"/>
<path d="M558.5 387.3a7.5 6.5 0 1 0 3 12.5l3 2-.6-3.4a7.5 6.5 0 0 0 -5.4-11.1z"/>
</g>
<rect x="545.2" y="383.8" width="2" height="2" fill="#F4F44A"/><rect x="552.4" y="383.8" width="2" height="2" fill="#F4F44A"/>
<rect x="555" y="390.2" width="1.7" height="1.7" fill="#F4F44A"/><rect x="560.2" y="390.2" width="1.7" height="1.7" fill="#F4F44A"/>
<text x="573" y="396.9" style="font-family:'Liberation Sans','Noto Sans CJK SC',sans-serif;font-size:15px" fill="#4a4a4a" fill-opacity="0.85">崔东树</text>
<text x="572" y="395.9" style="font-family:'Liberation Sans','Noto Sans CJK SC',sans-serif;font-size:15px" fill="#fff">崔东树</text>
</g>
</g>
</svg>
</body></html>
